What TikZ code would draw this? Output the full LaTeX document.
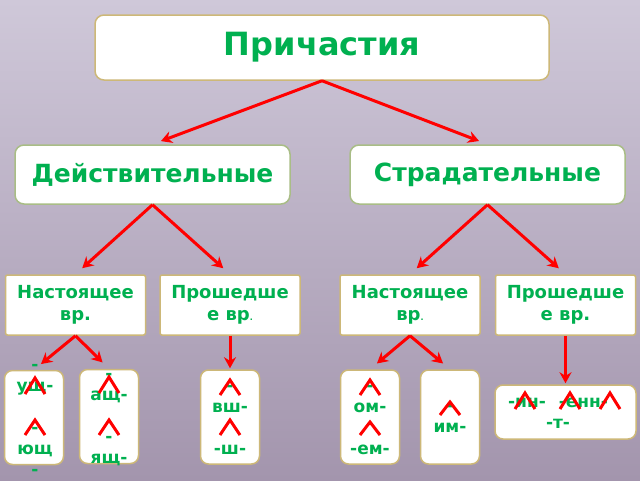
\documentclass[tikz,border=0pt]{standalone}
\usepackage{fontspec}
\setmainfont{DejaVu Sans}
\usetikzlibrary{arrows.meta,calc}
\definecolor{colorTXT}{HTML}{00B050}
\definecolor{colorARR}{HTML}{FF0000}
\definecolor{colorBOX}{HTML}{CDB878}
\definecolor{colorBOXG}{HTML}{A9BD86}
\definecolor{colorBGT}{HTML}{CFC8D9}
\definecolor{colorBGB}{HTML}{A395AD}
\newcommand{\sfxmark}[3]{\draw[wedge] (#1-10,#3) -- (#1,#2) -- (#1+10,#3);}
\tikzset{
   every path/.style={>={Stealth[length=11pt,width=12pt]}},
   arr/.style={->,color=colorARR,line width=3pt,shorten >=9pt},
   arrs/.style={->,color=colorARR,line width=3pt,shorten >=1pt},
   wedge/.style={color=colorARR,line width=3pt},
   top/.style={draw=colorBOX,line width=1.5pt,fill=white,rounded corners=9pt,
      minimum width=454pt,minimum height=65pt,inner sep=0pt,text=colorTXT,
      font=\fontsize{32}{38}\selectfont\bfseries},
   kind/.style={draw=colorBOXG,line width=1.5pt,fill=white,rounded corners=9pt,
      minimum width=275pt,minimum height=59pt,inner sep=0pt,text=colorTXT,
      font=\fontsize{25}{30}\selectfont\bfseries},
   tense/.style={draw=colorBOX,line width=1.5pt,fill=white,rounded corners=2pt,
      minimum width=140pt,minimum height=60pt,inner sep=0pt,text=colorTXT,align=center,
      font=\fontsize{18}{22}\selectfont\bfseries},
   sfx/.style={draw=colorBOX,line width=1.5pt,fill=white,rounded corners=8pt,
      minimum width=59pt,minimum height=94pt,inner sep=0pt},
   sfxtxt/.style={text=colorTXT,align=center,inner sep=0pt,
      font=\fontsize{17}{21}\selectfont\bfseries},
}

\begin{document}
\begin{tikzpicture}[x=1pt,y=-1pt]
      \useasboundingbox (0,0) rectangle (640,480);
      \fill[top color=colorBGT,bottom color=colorBGB] (0,0) rectangle (640,480);
      \node[top] (prich) at (322,47.5) {Причастия};
      \node[kind] (deys) at (152.5,174.5) {Действительные};
      \node[kind] (strad) at (487.5,174.5) {Страдательные};
      \node[tense] (nast1) at (75.5,305) {Настоящее\\вр.};
      \node[tense] (prosh1) at (230,305) {Прошедше\\е вр{\fontsize{8}{8}\selectfont .}};
      \node[tense] (nast2) at (410,305) {Настоящее\\вр{\fontsize{8}{8}\selectfont .}};
      \node[tense] (prosh2) at (565.5,305) {Прошедше\\е вр.};
      \node[sfx] (s1) at (34,417.5) {};
      \node[sfx] (s2) at (109,416.5) {};
      \node[sfx] (s3) at (230,417) {};
      \node[sfx] (s4) at (370,417) {};
      \node[sfx] (s5) at (450,417) {};
      \node[sfx,minimum width=141pt,minimum height=54pt] (s6) at (565.5,412) {};
      \node[sfxtxt] (s1t) at (35,419.5) {-\\ущ-\\\mbox{}\\-\\ющ\\-};
      \node[sfxtxt] (s2t) at (109,419.5) {-\\ащ-\\\mbox{}\\-\\ящ-};
      \node[sfxtxt] (s3t) at (230,419.5) {-\\вш-\\\mbox{}\\-ш-};
      \node[sfxtxt] (s4t) at (370,420) {-\\ом-\\\mbox{}\\-ем-};
      \node[sfxtxt] (s5t) at (450,419) {-\\им-};
      \node[sfxtxt] (s6t) at (558,413) {-ин-\hspace{13pt}-енн-\\-т-};
      \draw[arr] (prich.south) -- (deys.north);
      \draw[arr] (prich.south) -- (strad.north);
      \draw[arr] (deys.south) -- (nast1.north);
      \draw[arr] (deys.south) -- (prosh1.north);
      \draw[arr] (strad.south) -- (nast2.north);
      \draw[arr] (strad.south) -- (prosh2.north);
      \draw[arr] (nast1.south) -- (s1.north);
      \draw[arr] (nast1.south) -- (s2.north);
      \draw[arrs] (prosh1.south) -- (s3.north);
      \draw[arr] (nast2.south) -- (s4.north);
      \draw[arr] (nast2.south) -- (s5.north);
      \draw[arrs] (prosh2.south) -- (s6.north);
      \sfxmark{35}{378}{394}
      \sfxmark{35}{420}{435}
      \sfxmark{109}{377}{393}
      \sfxmark{109}{420}{435}
      \sfxmark{230}{380}{395}
      \sfxmark{230}{420}{435}
      \sfxmark{370}{380}{395}
      \sfxmark{370}{422}{435}
      \sfxmark{450}{402}{415}
      \sfxmark{525}{393}{409}
      \sfxmark{570}{393}{409}
      \sfxmark{610}{393}{409}
    \end{tikzpicture}
\end{document}
